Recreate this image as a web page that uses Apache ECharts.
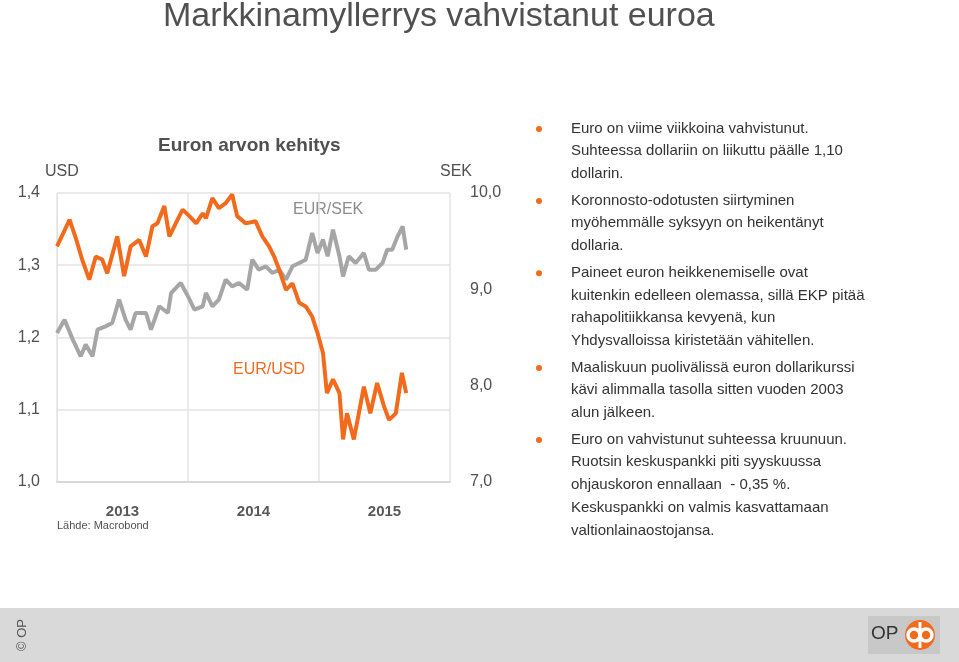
<!DOCTYPE html>
<html><head><meta charset="utf-8">
<script src="https://cdn.jsdelivr.net/npm/echarts@6/dist/echarts.min.js"></script>
<style>html,body{margin:0;padding:0;background:#fff}#c{width:959px;height:662px}</style>
</head><body><div id="c"></div>
<script>
const usdDates = ['2013-01-01','2013-02-05','2013-02-24','2013-03-12','2013-04-01','2013-04-19','2013-05-07','2013-05-21','2013-06-18','2013-07-07','2013-07-25','2013-08-18','2013-09-06','2013-09-24','2013-10-08','2013-10-27','2013-11-10','2013-11-28','2013-12-17','2014-01-05','2014-01-24','2014-02-11','2014-02-20','2014-03-10','2014-03-28','2014-04-16','2014-05-04','2014-05-18','2014-06-11','2014-07-08','2014-07-27','2014-08-15','2014-08-29','2014-09-12','2014-10-01','2014-10-19','2014-11-07','2014-11-25','2014-12-13','2014-12-28','2015-01-12','2015-01-23','2015-02-09','2015-02-27','2015-03-09','2015-03-20','2015-04-08','2015-04-22','2015-05-06','2015-05-24','2015-06-12','2015-07-01','2015-07-15','2015-08-03','2015-08-20','2015-09-01'];
const eurUsd = [1.326,1.363,1.335,1.308,1.280,1.312,1.308,1.289,1.340,1.285,1.326,1.335,1.312,1.354,1.358,1.382,1.340,1.358,1.377,1.368,1.358,1.372,1.365,1.393,1.379,1.386,1.398,1.368,1.358,1.361,1.340,1.326,1.312,1.294,1.266,1.275,1.248,1.243,1.229,1.206,1.179,1.123,1.142,1.123,1.059,1.095,1.059,1.095,1.132,1.095,1.137,1.105,1.086,1.095,1.151,1.123];
const sekDates = ['2013-01-01','2013-01-22','2013-02-14','2013-03-08','2013-03-22','2013-04-10','2013-04-24','2013-05-16','2013-06-04','2013-06-23','2013-07-11','2013-07-25','2013-08-08','2013-09-06','2013-09-20','2013-10-13','2013-11-06','2013-11-15','2013-12-12','2014-01-01','2014-01-19','2014-02-11','2014-02-20','2014-03-10','2014-03-28','2014-04-16','2014-05-04','2014-05-23','2014-06-15','2014-06-29','2014-07-17','2014-08-06','2014-08-24','2014-09-12','2014-10-01','2014-10-19','2014-11-07','2014-11-25','2014-12-13','2014-12-28','2015-01-12','2015-01-25','2015-02-09','2015-02-27','2015-03-09','2015-03-25','2015-04-13','2015-05-06','2015-05-20','2015-06-08','2015-06-27','2015-07-10','2015-07-24','2015-08-08','2015-08-22','2015-09-01'];
const eurSek = [8.547,8.685,8.478,8.305,8.426,8.305,8.581,8.616,8.650,8.893,8.685,8.581,8.754,8.754,8.581,8.824,8.754,8.962,9.066,8.927,8.789,8.824,8.962,8.824,8.893,9.100,9.031,9.066,8.997,9.308,9.204,9.239,9.170,9.204,9.100,9.239,9.273,9.308,9.585,9.377,9.516,9.343,9.619,9.343,9.135,9.343,9.273,9.377,9.204,9.204,9.273,9.412,9.412,9.550,9.654,9.412];
const years = ['2013','2014','2015'];
const usdTicks = [1.0,1.1,1.2,1.3,1.4];
const sekTicks = [7,8,9,10];
const bullets = [
 ['Euro on viime viikkoina vahvistunut.','Suhteessa dollariin on liikuttu päälle 1,10','dollarin.'],
 ['Koronnosto-odotusten siirtyminen','myöhemmälle syksyyn on heikentänyt','dollaria.'],
 ['Paineet euron heikkenemiselle ovat','kuitenkin edelleen olemassa, sillä EKP pitää','rahapolitiikkansa kevyenä, kun','Yhdysvalloissa kiristetään vähitellen.'],
 ['Maaliskuun puolivälissä euron dollarikurssi','kävi alimmalla tasolla sitten vuoden 2003','alun jälkeen.'],
 ['Euro on vahvistunut suhteessa kruunuun.','Ruotsin keskuspankki piti syyskuussa','ohjauskoron ennallaan  - 0,35 %.','Keskuspankki on valmis kasvattamaan','valtionlainaostojansa.']
];
const t = s => new Date(s + 'T00:00:00Z').getTime();
const Y = 365*86400000;
const F = 'Liberation Sans, Arial, sans-serif';
const g = [];
g.push({type:'text',left:163,top:0,style:{text:'Markkinamyllerrys vahvistanut euroa',font:'34px '+F,fill:'#505050'}});
g.push({type:'text',left:158,top:136,style:{text:'Euron arvon kehitys',font:'bold 19px '+F,fill:'#505050'}});
g.push({type:'text',left:45,top:164,style:{text:'USD',font:'16px '+F,fill:'#505050'}});
g.push({type:'text',left:440,top:164,style:{text:'SEK',font:'16px '+F,fill:'#505050'}});
g.push({type:'text',left:293,top:202,style:{text:'EUR/SEK',font:'16px '+F,fill:'#8c8c8c'}});
g.push({type:'text',left:233,top:362,style:{text:'EUR/USD',font:'16px '+F,fill:'#f26b1d'}});
g.push({type:'text',left:57,top:520,style:{text:'Lähde: Macrobond',font:'11px '+F,fill:'#505050'}});
let y = 121;
bullets.forEach(b => {
  g.push({type:'circle',shape:{cx:539,cy:y+8,r:3},style:{fill:'#f26b1d'}});
  b.forEach(line => { g.push({type:'text',left:571,top:y,style:{text:line,font:'15px '+F,fill:'#333'}}); y += 22.7; });
  y += 4;
});
g.push({type:'rect',shape:{x:0,y:608,width:959,height:54},style:{fill:'#d9d9d9'}});
g.push({type:'text',x:22,y:635,rotation:Math.PI/2,style:{text:'© OP',font:'13px '+F,fill:'#555',align:'center',verticalAlign:'middle'}});
g.push({type:'rect',shape:{x:868,y:616,width:72,height:38},style:{fill:'#c8c8c8'}});
g.push({type:'text',left:871,top:624,style:{text:'OP',font:'19px '+F,fill:'#333'}});
g.push({type:'circle',shape:{cx:920,cy:635,r:15},style:{fill:'#f26b1d'}});
g.push({type:'circle',shape:{cx:914,cy:635,r:6},style:{fill:'none',stroke:'#fff',lineWidth:3.5}});
g.push({type:'circle',shape:{cx:926,cy:635,r:6},style:{fill:'none',stroke:'#fff',lineWidth:3.5}});
g.push({type:'rect',shape:{x:918.5,y:622,width:3,height:26},style:{fill:'#fff'}});

const chart = echarts.init(document.getElementById('c'));
chart.setOption({
  animation:false,
  textStyle:{fontFamily:F},
  graphic:g,
  grid:{left:57,right:509,top:193,bottom:180},
  xAxis:[
    {type:'value',min:t('2013-01-01'),max:t('2013-01-01')+3*Y,interval:Y,
     axisLine:{show:true,lineStyle:{color:'#d9d9d9',width:2}},axisTick:{show:false},axisLabel:{show:false},
     splitLine:{show:true,lineStyle:{color:'#e3e3e3',width:1.5}}},
    {type:'category',data:years,position:'bottom',axisLine:{show:false},axisTick:{show:false},
     axisLabel:{color:'#595959',fontSize:15,fontWeight:'bold',margin:22},splitLine:{show:false}}
  ],
  yAxis:[
    {type:'value',min:1.0,max:1.4,interval:0.1,axisLine:{show:true,lineStyle:{color:'#e3e3e3'}},axisTick:{show:false},
     axisLabel:{color:'#505050',fontSize:16,margin:17,formatter:v=>v.toFixed(1).replace('.',',')},
     splitLine:{lineStyle:{color:'#e3e3e3',width:1.5}}},
    {type:'value',min:7,max:10,interval:1,position:'right',axisLine:{show:false},axisTick:{show:false},
     axisLabel:{color:'#505050',fontSize:16,margin:20,formatter:v=>v.toFixed(1).replace('.',',')},splitLine:{show:false}}
  ],
  series:[
    {type:'line',name:'EUR/SEK',yAxisIndex:1,data:sekDates.map((d,i)=>[t(d),eurSek[i]]),showSymbol:false,
     lineStyle:{color:'#a6a6a6',width:4},z:2},
    {type:'line',name:'EUR/USD',yAxisIndex:0,data:usdDates.map((d,i)=>[t(d),eurUsd[i]]),showSymbol:false,
     lineStyle:{color:'#f26b1d',width:4},z:3}
  ]
});
</script></body></html>
